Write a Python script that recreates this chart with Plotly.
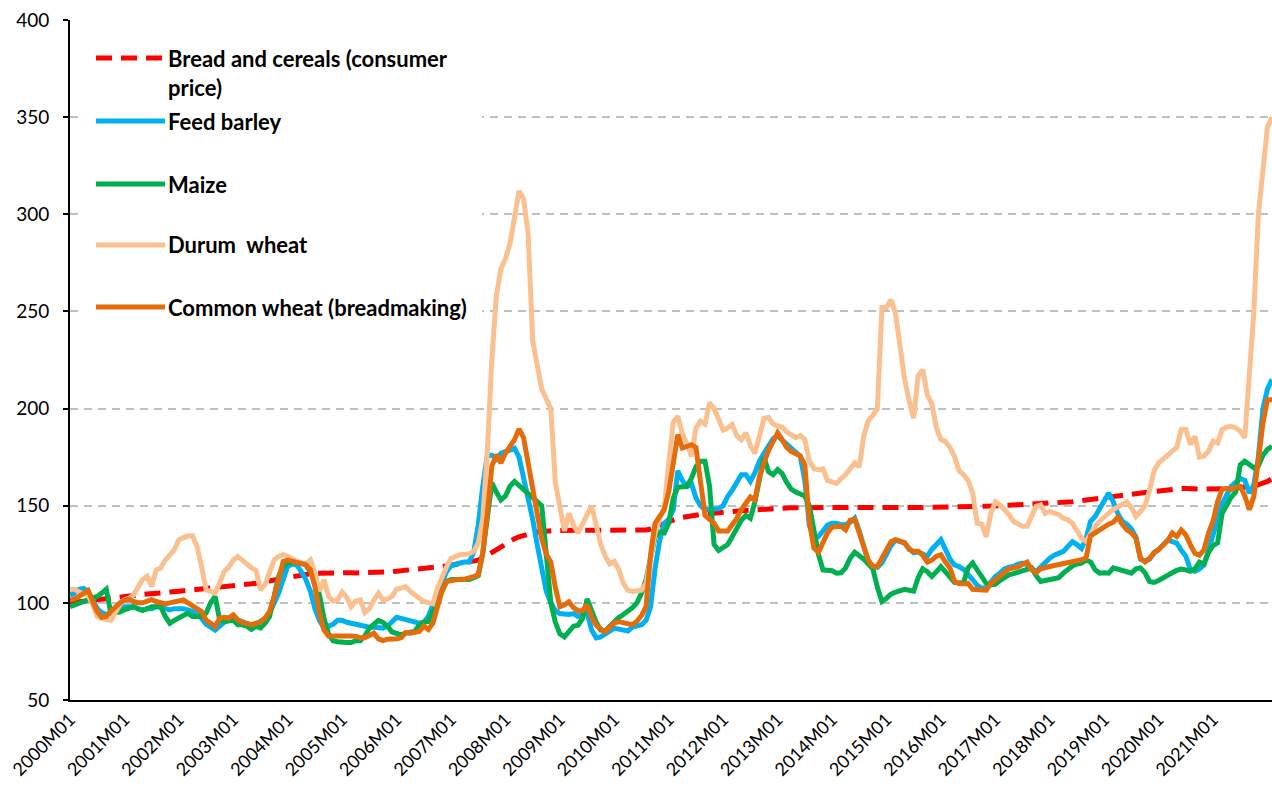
import plotly.graph_objects as go

# ---------------- data (monthly index, 2000M01 .. 2022M02) ----------------
years = list(range(2000, 2023))
months = [f"{y}M{m:02d}" for y in years for m in range(1, 13)][:266]
tick_labels = [f"{y}M01" for y in range(2000, 2022)]

bread = [
    100, 100.3, 100.6, 101, 101.2, 101.5, 101.8, 102, 102.2, 102.5, 102.7, 103,
    103.2, 103.5, 103.8, 104, 104.3, 104.5, 104.8, 105, 105.2, 105.4, 105.6, 105.8,
    106, 106.2, 106.4, 106.6, 106.8, 107, 107.2, 107.4, 107.6, 107.8, 108, 108.3,
    108.6, 108.9, 109.2, 109.5, 109.8, 110.1, 110.4, 110.8, 111.2, 111.6, 112, 112.5,
    113, 113.5, 114, 114.5, 114.8, 115, 115.2, 115.3, 115.4, 115.5, 115.5, 115.5,
    115.5, 115.5, 115.5, 115.4, 115.4, 115.5, 115.5, 115.5, 115.6, 115.7, 115.8, 116,
    116.3, 116.5, 116.8, 117, 117.2, 117.4, 117.6, 117.8, 118, 118.3, 118.6, 119,
    119.4, 119.8, 120.2, 120.6, 121, 121.4, 122, 123, 124.5, 126, 127.5, 129,
    130.5, 132, 133, 134, 134.8, 135.5, 136, 136.5, 136.8, 137, 137.2, 137.3,
    137.3, 137.3, 137.2, 137.2, 137.2, 137, 137, 137, 137, 137, 137, 137,
    137, 137, 137, 137, 137, 137, 137.2, 137.5, 138, 139, 140, 141,
    142, 142.8, 143.5, 144, 144.5, 145, 145.3, 145.5, 145.7, 146, 146.2, 146.4,
    146.6, 146.8, 147, 147.2, 147.4, 147.6, 147.8, 148, 148.2, 148.4, 148.5, 148.6,
    148.7, 148.8, 148.9, 149, 149, 149, 149, 149, 149, 149, 149, 149,
    148.8, 148.8, 148.7, 148.6, 148.6, 148.5, 148.5, 148.5, 148.5, 148.5, 148.5, 148.6,
    148.7, 148.8, 148.8, 148.9, 149, 149, 149, 149.1, 149.1, 149.2, 149.2, 149.3,
    149.3, 149.4, 149.4, 149.5, 149.5, 149.5, 149.6, 149.6, 149.7, 149.7, 149.8, 149.8,
    149.9, 150, 150, 150.1, 150.2, 150.3, 150.3, 150.4, 150.5, 150.6, 150.7, 150.8,
    151, 151.2, 151.4, 151.6, 151.8, 152, 152.3, 152.6, 153, 153.4, 153.8, 154.2,
    154.6, 155, 155.3, 155.6, 155.8, 156, 156.2, 156.4, 156.6, 156.8, 157, 157.3,
    157.6, 158, 158.3, 158.5, 158.7, 158.8, 158.8, 158.6, 158.4, 158.4, 158.5, 158.6,
    158.5, 158.5, 158.6, 158.7, 158.8, 159, 159.2, 159.5, 159.8, 160.2, 160.8, 161.5,
    162.5, 164,
]

feed_barley = [
    104, 105, 107, 107.5, 106, 101.5, 97, 95, 94, 95, 95.6, 97,
    98, 98, 98, 97, 96.4, 97, 97, 98, 98, 97, 96.4, 97,
    97.2, 97, 96.4, 95.5, 94.8, 92, 89, 87.5, 86, 88, 90, 91,
    91.2, 91, 90.4, 89, 88, 89, 90.4, 92, 94.7, 100, 105, 112,
    118.7, 120, 119.5, 116, 112, 106, 97, 91, 87, 88, 89, 91,
    91, 90, 89.5, 88.5, 88, 88, 87.5, 87.5, 87, 87, 88, 90,
    92.6, 92, 91.5, 90.4, 90, 89.5, 90, 93, 99, 105, 111, 116,
    119, 120, 120.5, 121, 121, 126, 140, 160, 176, 176, 174, 177,
    178, 179, 179.5, 175, 165, 155, 143, 130, 118, 106, 100, 96,
    94.5, 94, 94, 94.5, 93, 94, 95, 86, 82, 82.5, 84, 86,
    87, 86.5, 86, 85.5, 87.5, 88, 88.7, 91, 98, 118, 132, 141,
    143, 148, 168, 163, 160, 161.5, 154, 150, 148, 148, 148, 148.5,
    150, 154.8, 158, 161.7, 166, 166, 162.5, 167, 173, 177, 180.6, 184.5,
    186, 184, 182, 180, 178, 175.5, 163, 140, 133, 134, 137, 140,
    141, 141, 140.2, 140.2, 141.5, 143.6, 137, 129, 121, 118.5, 118.3, 120.5,
    125, 129.5, 132.3, 131.8, 130.7, 128, 125.8, 126.3, 125, 124, 127.5, 130.5,
    132.5, 127.5, 122.5, 119.5, 118.7, 117.2, 115, 112, 109, 107.6, 107.6, 110.5,
    113.5, 115.3, 117.5, 118.3, 118.7, 120, 120.5, 119.6, 118, 116, 118.5, 121,
    123, 124.5, 125.8, 126.5, 129, 131.5, 130, 128, 133, 142, 144.5, 148.5,
    153, 156.5, 152, 146, 142, 140.5, 138, 134, 122.5, 121.5, 122.5, 125.6,
    127.5, 129.5, 132.3, 131.5, 130.8, 127, 124, 117.2, 116.3, 117.5, 119.6, 127,
    135, 141, 151, 155.5, 160, 162, 164, 163, 156.5, 161, 175, 200,
    210, 215,
]

maize = [
    98, 99, 100, 101, 101.6, 102.5, 103.3, 105, 107, 94.7, 95, 95.2,
    96.4, 97, 98, 97, 96, 97, 98, 98, 98, 93, 89.5, 91,
    92.6, 93.5, 94.7, 93, 93, 93, 94.7, 100, 103.3, 91.2, 90.4, 91,
    91, 88.7, 88.7, 88, 86.3, 88, 87, 89.5, 93, 103.3, 113.6, 118.7,
    120.5, 121, 121.3, 120.5, 119.6, 116, 112, 104, 92, 84, 80.5, 80,
    79.6, 79.6, 79.6, 80.5, 80.5, 83, 87, 88.7, 91, 90, 88, 85,
    84, 83.5, 84.4, 85, 85.3, 88.7, 90, 90.4, 96, 101.5, 106, 111,
    112, 112, 112, 112, 112, 113, 114, 125.6, 146, 161.7, 157, 153,
    155, 160, 162.5, 160.5, 158.3, 156.5, 154.8, 152, 150, 125, 100, 90,
    84, 82.5, 85, 88, 88.5, 92, 102, 96, 90, 86, 85.5, 88,
    90.5, 92.5, 94, 95.6, 97.5, 100, 105, 112, 124, 134, 136.5, 136,
    141, 154, 159.5, 159.5, 160, 164, 170, 172.9, 172.9, 160, 130, 127,
    128.5, 130, 134, 138.5, 142.5, 145, 143.5, 152, 165, 175, 167.5, 166,
    168.6, 166.5, 162, 158.5, 157, 155.7, 155, 150, 136, 125, 117, 117,
    116.5, 115.3, 115.5, 118, 123, 126, 124.5, 122.5, 120, 117.5, 108, 100.7,
    102.4, 104.5, 105.5, 106, 107, 106.5, 106, 113, 117.5, 116, 113.6, 116,
    118.7, 116, 113.6, 110.5, 110.2, 110.5, 118, 120.5, 117, 113.6, 110, 109.3,
    109.5, 111.5, 113, 114.4, 115, 115.8, 116.2, 117, 118, 114, 111, 111.5,
    112, 112.5, 113, 115.3, 117.5, 119, 120, 120.5, 122, 121, 117, 115.3,
    115.5, 115.3, 118, 117.5, 116.7, 116, 115.3, 117.5, 118, 115.5, 111, 110.5,
    111.5, 113, 114.4, 115.5, 116.7, 117.4, 117, 116.2, 117.5, 121, 120, 126,
    129.5, 130.8, 146, 151, 154.5, 157, 171, 172.9, 171, 169.5, 170.5, 176,
    179, 180.6,
]

durum_wheat = [
    107, 107, 105.5, 104.5, 104, 99, 93, 92, 91.5, 91, 95, 99,
    101.6, 102.4, 104.1, 108.4, 111.9, 113.6, 108.4, 117, 117.9, 122, 124.8, 127.3,
    132.5, 133.3, 134.5, 134.5, 129, 118.7, 106.7, 105.9, 105, 110.2, 116.2, 118.4,
    122, 123.9, 122, 119.6, 118, 116.7, 106.7, 109.3, 115.3, 122, 123.9, 124.8,
    124, 122.5, 121.3, 120.5, 120, 122, 115.3, 106, 111.9, 103.3, 101, 101.5,
    105.6, 103, 98, 101, 101.5, 95, 97, 101.5, 105, 101.5, 102, 103.3,
    107, 107.6, 108.4, 105.9, 104, 102.4, 100.7, 100, 99.5, 107.6, 113.6, 118.5,
    122.8, 124, 124.8, 125, 125.3, 126.5, 130.8, 143, 178, 225, 258, 272,
    277, 285, 300, 312, 308, 290, 235, 222, 210, 205, 200, 162,
    149, 137, 146, 140, 136, 141, 146, 150, 140, 130, 124, 120,
    121.3, 117, 110, 106.5, 105.9, 105.9, 106.5, 110, 125, 136, 143, 149,
    172, 193, 196, 187, 182, 175.4, 190, 193.5, 192, 203, 200, 195,
    189, 190, 191.8, 186, 184, 187.5, 181, 177, 186, 195, 195.5, 192,
    191, 190.5, 188, 186.6, 185, 186, 184, 173, 169, 168.5, 169, 163,
    162, 161.5, 164, 166, 169, 172, 170, 186, 194, 196.5, 200, 252,
    252, 256, 249, 232, 215, 204, 195, 217, 220, 207, 202.5, 190,
    184, 183, 180, 175.4, 168, 166, 163, 156.5, 141, 140.5, 134, 146,
    152, 150.5, 148, 145.4, 142, 140.5, 139.4, 139.4, 145, 149.7, 150.5, 146,
    147.1, 146, 145.4, 143.5, 142.8, 141, 137, 133.3, 131.6, 136, 139.4, 142,
    144.5, 146.2, 148, 149.5, 150.5, 152, 149, 144.5, 147, 150, 158, 168,
    172, 174, 176, 178, 180, 189.2, 189.2, 181.5, 185.7, 175, 175.5, 178,
    183.2, 182.3, 189.2, 190.5, 190.9, 190, 188.3, 185, 218, 250, 300, 325,
    345, 350,
]

common_wheat = [
    101.5, 102, 103.3, 105, 106.4, 100.7, 95.6, 92.6, 93, 95.6, 98, 100,
    101.2, 101.9, 100.7, 100, 100, 100.5, 101.6, 100.7, 100.2, 99.5, 100, 100.7,
    101.2, 101.5, 100, 98.5, 97.3, 95.6, 91.2, 89.5, 87.8, 92.1, 92.6, 92.2,
    93.8, 91.2, 89.8, 89.5, 88.7, 89.5, 90, 92.1, 95.6, 103.3, 113.6, 121.3,
    122, 121.5, 120.5, 120.5, 119.6, 117, 108.4, 94.7, 86, 83, 83, 83.3,
    83.5, 83.5, 83, 82.7, 82, 82, 83.5, 84.4, 81.5, 80.6, 81.3, 81.3,
    81.5, 82, 84.7, 84.4, 84.8, 85.3, 88, 86.3, 89.5, 97, 106, 111,
    111.5, 112.2, 112.2, 112.2, 112.7, 113.5, 114.4, 125.6, 146, 170.3, 176.3, 172,
    177, 180, 184, 189.5, 185, 172, 158, 146, 133, 125, 121, 108,
    98, 99, 100.5, 97.5, 96, 96, 99, 92.5, 88.5, 86.5, 85, 87.5,
    89.6, 90.4, 90, 89.5, 88.7, 90.5, 93.5, 98, 125, 141, 145, 148,
    157, 170, 186.6, 179.7, 180.5, 181.4, 180, 160, 145, 143, 141, 137,
    137, 137, 140.2, 143.5, 148, 151.4, 154.5, 153, 165, 172, 178.5, 183,
    187.5, 184, 180, 178, 177, 175.5, 171, 142, 128.2, 126, 131, 136,
    139, 139.4, 139.4, 137.6, 142.5, 143, 136, 128, 122, 118.7, 118.7, 123,
    127.3, 131.5, 132.5, 131.6, 131, 127.5, 126.5, 126.5, 124.5, 121, 122, 124,
    124.8, 121, 118, 111, 110, 109.8, 110, 107, 106.7, 106.4, 106.5, 110,
    112, 113.6, 116, 117.5, 117.9, 118.5, 119.8, 121, 117, 115.5, 117.5, 118.3,
    118.7, 119.2, 119.6, 120.2, 120.5, 121.3, 121.8, 122.2, 123, 134.5, 136, 137.6,
    139.5, 140.5, 141.5, 144, 140.5, 137.5, 136, 133.3, 123, 121, 123, 126,
    127.3, 129.5, 132, 136, 134.2, 137.5, 135, 130, 125.5, 124.5, 127.3, 136,
    142, 152, 158.5, 159, 158.3, 159.5, 160, 155, 148, 154.8, 172, 192.6,
    204.6, 204.6,
]

series_names = [
    "Bread and cereals (consumer<br>price)",
    "Feed barley",
    "Maize",
    "Durum  wheat",
    "Common wheat (breadmaking)",
]
series_values = [bread, feed_barley, maize, durum_wheat, common_wheat]
series_colors = ["#FF0000", "#00B0F0", "#00B050", "#FAC090", "#E46C0A"]
series_dash = ["16px,9px", "solid", "solid", "solid", "solid"]

# ---------------- figure ----------------
W, H = 1272, 798
L, R, T, B = 70, 0, 20, 98
FONT = "Lato"

xidx = list(range(len(months)))
fig = go.Figure()
for name, vals, col, dash in zip(series_names, series_values, series_colors, series_dash):
    fig.add_trace(go.Scatter(
        x=xidx[:len(vals)], y=vals, mode="lines", name=name.replace("<br>", " "),
        line=dict(color=col, width=5, dash=dash), showlegend=False,
        hovertext=months[:len(vals)],
    ))

fig.update_layout(
    width=W, height=H, margin=dict(l=L, r=R, t=T, b=B),
    paper_bgcolor="white", plot_bgcolor="white",
    font=dict(family=FONT, color="#000000"),
)
fig.update_xaxes(
    range=[0, len(months) - 1],
    tickmode="array", tickvals=[12 * k for k in range(len(tick_labels))], ticktext=tick_labels,
    tickangle=-45, tickfont=dict(size=18, family=FONT, color="#000000"),
    showgrid=False, zeroline=False, showline=True, linecolor="#000000", linewidth=2,
    ticks="",
)
fig.update_yaxes(
    range=[50, 400], dtick=50, tick0=50,
    tickfont=dict(size=19, family=FONT, color="#000000"),
    showgrid=True, gridcolor="#BFBFBF", gridwidth=1.5, griddash="8px,6px",
    zeroline=False, showline=True, linecolor="#000000", linewidth=2,
    ticks="outside", ticklen=5, tickwidth=1.5, tickcolor="#000000",
    ticklabelstandoff=10,
)

# ---------------- legend (drawn inside plot, top-left) ----------------
pw, ph = W - L - R, H - T - B
def px(x):
    return (x - L) / pw
def py(y):
    return 1 - (y - T) / ph

shapes = [dict(type="rect", xref="paper", yref="paper", x0=px(79), x1=px(482),
               y0=py(328), y1=py(22), fillcolor="white", line=dict(width=0), layer="above")]
rows = [58, 121, 184, 245, 307]
annotations = []
for name, col, dash, yy in zip(series_names, series_colors, series_dash, rows):
    shapes.append(dict(type="line", xref="paper", yref="paper", x0=px(96), x1=px(165),
                       y0=py(yy), y1=py(yy), layer="above",
                       line=dict(color=col, width=5, dash=dash)))
    two = "<br>" in name
    annotations.append(dict(
        xref="paper", yref="paper", x=px(166), y=py(yy - 15) if two else py(yy),
        xanchor="left", yanchor="top" if two else "middle", align="left",
        text=name, showarrow=False,
        font=dict(family=FONT, size=22, color="#000000", weight="bold"),
    ))
fig.update_layout(shapes=shapes, annotations=annotations)

fig.write_html(
    "out.html",
    config={"displayModeBar": False},
    post_script="document.body.style.margin='0';document.body.style.overflow='hidden';",
)
